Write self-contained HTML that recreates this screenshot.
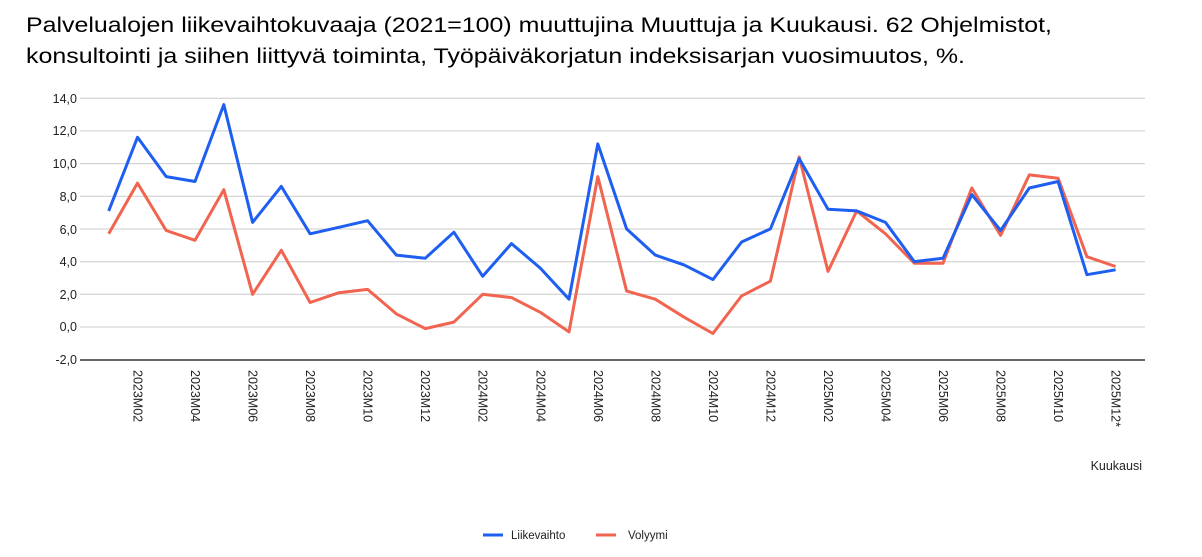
<!DOCTYPE html>
<html><head><meta charset="utf-8"><style>
html,body{margin:0;padding:0;background:#fff;}
svg{display:block;font-family:"Liberation Sans",Arial,sans-serif;}
</style></head><body>
<svg width="1202" height="557" viewBox="0 0 1202 557" xmlns="http://www.w3.org/2000/svg">
<text x="26" y="32" font-size="21" fill="#000" textLength="1026" lengthAdjust="spacingAndGlyphs">Palvelualojen liikevaihtokuvaaja (2021=100) muuttujina Muuttuja ja Kuukausi. 62 Ohjelmistot,</text>
<text x="26" y="63" font-size="21" fill="#000" textLength="939" lengthAdjust="spacingAndGlyphs">konsultointi ja siihen liittyvä toiminta, Työpäiväkorjatun indeksisarjan vuosimuutos, %.</text>
<g stroke="#ccc" stroke-width="1">
<line x1="80" x2="1145" y1="98.3" y2="98.3"/><line x1="80" x2="1145" y1="130.9" y2="130.9"/>
<line x1="80" x2="1145" y1="163.6" y2="163.6"/><line x1="80" x2="1145" y1="196.3" y2="196.3"/>
<line x1="80" x2="1145" y1="229" y2="229"/><line x1="80" x2="1145" y1="261.7" y2="261.7"/>
<line x1="80" x2="1145" y1="294.3" y2="294.3"/><line x1="80" x2="1145" y1="327" y2="327"/>
</g>
<line x1="80" x2="1145" y1="360" y2="360" stroke="#333" stroke-width="1.5"/>
<g font-size="12.5" fill="#222" text-anchor="end">
<text x="77" y="103">14,0</text><text x="77" y="135">12,0</text><text x="77" y="168">10,0</text>
<text x="77" y="201">8,0</text><text x="77" y="234">6,0</text><text x="77" y="266">4,0</text>
<text x="77" y="299">2,0</text><text x="77" y="331">0,0</text><text x="77" y="364">-2,0</text>
</g>
<g id="xl" font-size="12.5" fill="#222"></g>
<text x="1142" y="470" font-size="12.5" fill="#222" text-anchor="end">Kuukausi</text>
<polyline id="vol" fill="none" stroke="#f06450" stroke-width="3" stroke-linejoin="round"/>
<polyline id="lv" fill="none" stroke="#1e5ef0" stroke-width="3" stroke-linejoin="round"/>
<line x1="483" x2="503" y1="535" y2="535" stroke="#1e5ef0" stroke-width="3"/>
<text x="511" y="539" font-size="11.5" fill="#222">Liikevaihto</text>
<line x1="596" x2="616" y1="535" y2="535" stroke="#f06450" stroke-width="3"/>
<text x="628" y="539" font-size="11.5" fill="#222">Volyymi</text>
</svg>
<script>
var lv=[7.1,11.6,9.2,8.9,13.6,6.4,8.6,5.7,6.1,6.5,4.4,4.2,5.8,3.1,5.1,3.6,1.7,11.2,6.0,4.4,3.8,2.9,5.2,6.0,10.3,7.2,7.1,6.4,4.0,4.2,8.1,5.9,8.5,8.9,3.2,3.5];
var vo=[5.7,8.8,5.9,5.3,8.4,2.0,4.7,1.5,2.1,2.3,0.8,-0.1,0.3,2.0,1.8,0.9,-0.3,9.2,2.2,1.7,0.6,-0.4,1.9,2.8,10.4,3.4,7.1,5.7,3.9,3.9,8.5,5.6,9.3,9.1,4.3,3.7];
function X(i){return 108.7+i*28.77}function Y(v){return 327-v*16.35}
function pts(a){return a.map(function(v,i){return X(i).toFixed(1)+","+Y(v).toFixed(1)}).join(" ")}
document.getElementById("lv").setAttribute("points",pts(lv));
document.getElementById("vol").setAttribute("points",pts(vo));
var g=document.getElementById("xl"),s="";
for(var i=1;i<36;i+=2){var y=2023+Math.floor(i/12),m=(i%12)+1;var lab=y+"M"+(m<10?"0":"")+m+(i==35?"*":"");
var x=X(i)-4;s+='<text transform="translate('+x.toFixed(1)+',370) rotate(90)">'+lab+'</text>';}
g.innerHTML=s;
</script>
</body></html>
